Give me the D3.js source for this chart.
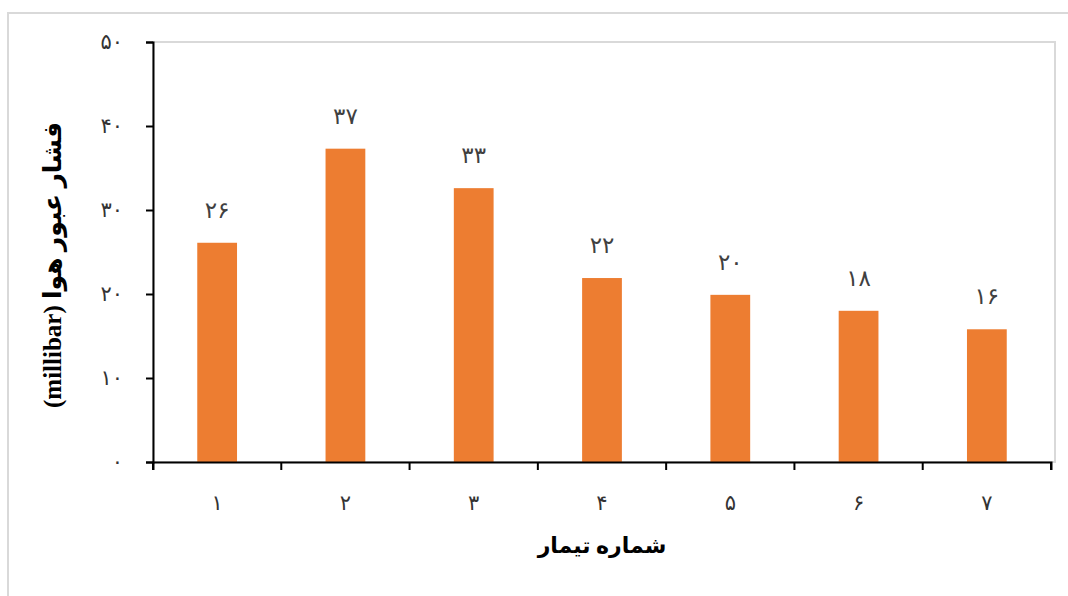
<!DOCTYPE html>
<html>
<head>
<meta charset="utf-8">
<script src="https://cdn.jsdelivr.net/npm/d3@7"></script>
<style>
  body { margin: 0; background: #fff; }
  svg { display: block; }
</style>
</head>
<body>
<div id="chart"></div>
<script>
// treatments and measured air permeability pressure
var treatments = ["1", "2", "3", "4", "5", "6", "7"];
var pressure = [26.1, 37.3, 32.6, 21.9, 19.9, 18.0, 15.8];
var yTicks = [0, 10, 20, 30, 40, 50];

var xTitle = "شماره تیمار";
var yTitle = "فشار عبور هوا (millibar)";

var width = 1068, height = 596;
var margin = {top: 42, right: 17, bottom: 134, left: 153};

var faDigits = "۰۱۲۳۴۵۶۷۸۹";
function fa(s) {
  return String(s).replace(/[0-9]/g, function(c) { return faDigits[+c]; });
}

var font = "'Liberation Serif', 'DejaVu Sans', serif";

var svg = d3.select("#chart").append("svg")
    .attr("width", width)
    .attr("height", height);

// outer chart frame
svg.append("rect")
    .attr("x", 8).attr("y", 13)
    .attr("width", width + 20).attr("height", height + 20)
    .attr("fill", "none")
    .attr("stroke", "#d9d9d9")
    .attr("stroke-width", 2);

var x = d3.scaleBand()
    .domain(treatments)
    .range([margin.left, width - margin.right])
    .paddingInner(0.69)
    .paddingOuter(0.345);

var y = d3.scaleLinear()
    .domain([0, 50])
    .range([height - margin.bottom, margin.top]);

// plot area border (top / right)
svg.append("rect")
    .attr("x", margin.left)
    .attr("y", margin.top)
    .attr("width", width - margin.right - margin.left + 4)
    .attr("height", y(0) - margin.top)
    .attr("fill", "none")
    .attr("stroke", "#d9d9d9")
    .attr("stroke-width", 2);

svg.append("g")
    .selectAll("rect")
    .data(pressure)
    .enter().append("rect")
      .attr("x", function(d, i) { return x(treatments[i]); })
      .attr("y", function(d) { return y(d); })
      .attr("width", x.bandwidth())
      .attr("height", function(d) { return y(0) - y(d); })
      .attr("fill", "#ED7D31");

// value labels
svg.append("g")
    .attr("font-family", font)
    .attr("font-size", 23)
    .attr("fill", "#404040")
    .attr("text-anchor", "middle")
  .selectAll("text")
    .data(pressure)
    .enter().append("text")
      .attr("x", function(d, i) { return x(treatments[i]) + x.bandwidth() / 2; })
      .attr("y", function(d) { return y(d) - 25; })
      .text(function(d) { return fa(Math.round(d)); });

// axes
var xAxis = svg.append("g")
    .attr("transform", "translate(0," + y(0) + ")")
    .call(d3.axisBottom(x).tickSize(8).tickFormat(fa));

// put ticks on band edges instead of centers
xAxis.selectAll(".tick line").remove();
xAxis.selectAll(".edge")
    .data(d3.range(treatments.length + 1))
    .enter().append("line")
      .attr("x1", function(i) { return margin.left + i * x.step(); })
      .attr("x2", function(i) { return margin.left + i * x.step(); })
      .attr("y1", 0).attr("y2", 8)
      .attr("stroke", "#000").attr("stroke-width", 2);

var yAxis = svg.append("g")
    .attr("transform", "translate(" + margin.left + ",0)")
    .call(d3.axisLeft(y).tickValues(yTicks).tickSize(7).tickPadding(23).tickFormat(fa));

[xAxis, yAxis].forEach(function(g) {
  g.select(".domain").attr("stroke", "#000").attr("stroke-width", 2);
  g.selectAll(".tick line").attr("stroke", "#000").attr("stroke-width", 2);
  g.selectAll(".tick text")
      .attr("font-family", font)
      .attr("font-size", 21)
      .attr("fill", "#333");
});
xAxis.selectAll(".tick text").attr("dy", "1.75em");

// axis titles
svg.append("text")
    .attr("x", (margin.left + width - margin.right) / 2)
    .attr("y", 553)
    .attr("text-anchor", "middle")
    .attr("direction", "rtl")
    .attr("font-family", font)
    .attr("font-weight", "bold")
    .attr("font-size", 22)
    .attr("fill", "#000")
    .text(xTitle);

svg.append("text")
    .attr("transform", "translate(61," + 265 + ") rotate(-90)")
    .attr("text-anchor", "middle")
    .attr("direction", "rtl")
    .attr("font-family", font)
    .attr("font-weight", "bold")
    .attr("font-size", 25)
    .attr("fill", "#000")
    .text(yTitle);
</script>
</body>
</html>
